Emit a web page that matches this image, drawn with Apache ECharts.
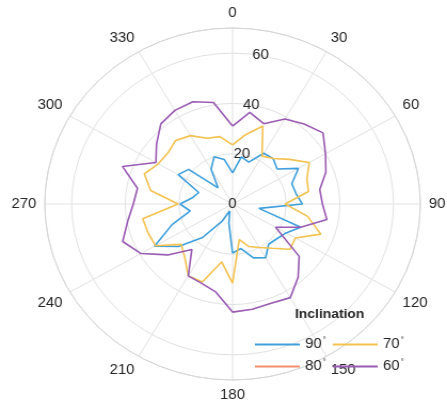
<!DOCTYPE html>
<html>
<head>
<meta charset="utf-8">
<script src="https://cdn.jsdelivr.net/npm/echarts@6/dist/echarts.min.js"></script>
<style>
  html, body { margin: 0; padding: 0; background: #ffffff; overflow: hidden; }
  /* the plot is slightly wider than tall */
  #chart { width: 419px; height: 404px; transform: scaleX(1.0668); transform-origin: 0 0; }
</style>
</head>
<body>
<div id="chart"></div>
<script>
// Azimuth of each sample (degrees, clockwise from north)
const angles = [0, 10, 20, 30, 40, 50, 60, 70, 80, 90, 100, 110,
                120, 130, 140, 150, 160, 170, 180, 190, 200, 210, 220, 230,
                240, 250, 260, 270, 280, 290, 300, 310, 320, 330, 340, 350];

// Radial values per inclination
const r90 = [12.4, 19, 17.7, 23.3, 23.5, 21.7, 28.3, 23.5, 24, 26, 10, 27,
             23, 21.5, 20.9, 24.7, 22.8, 18, 19.5, 7.8, 3, 8, 17.4, 26.3,
             33.6, 24, 16, 19.6, 15, 13.4, 23.4, 21.4, 8.4, 16, 20, 18];
const r80 = [];
const r70 = [23.5, 28, 33, 22, 23.6, 27.6, 33, 29.5, 28.7, 19.6, 28.4, 35,
             27, 28, 23, 20, 18, 14.4, 31.5, 23.4, 33, 33, 27.7, 25,
             33.2, 33.5, 34, 20.3, 31, 35, 32, 31.5, 33, 31.4, 27.8, 27.2];
const r60 = [31, 37, 34, 39, 41.5, 44, 40, 37, 33, 33.5, 35.7, 27,
             18.5, 32.4, 38, 43, 42, 42.5, 43, 35.6, 33.6, 33, 23.6, 31.5,
             39.4, 43.6, 39.7, 37, 36, 43.7, 33, 37, 41.6, 43, 43.3, 41];

const seriesNames = ['90', '80', '70', '60'];
const seriesRadii = [r90, r80, r70, r60];
const seriesColors = ['#3e9fdc', '#f0916b', '#f3c24f', '#9a5bb3'];

const angleTickStep = 30;
const radiusTickStep = 20;
const radiusMax = 70;

// closed polar loop: [radius, angle] pairs, back to the start
function loop(radii) {
  if (!radii.length) return [];
  const pts = radii.map((r, i) => [r, angles[i]]);
  pts.push([radii[0], 360]);
  return pts;
}

const center = [218, 204];
const radius = 176;
const textColor = '#262626';
const gridColor = '#e2e2e2';
const font = 'Liberation Sans, Arial, sans-serif';

const chart = echarts.init(document.getElementById('chart'), null, { renderer: 'canvas' });

const legendPos = [
  { left: 239, top: 336 },  // 90
  { left: 239, top: 358 },  // 80
  { left: 312, top: 336 },  // 70
  { left: 312, top: 358 }   // 60
];

chart.setOption({
  animation: false,
  backgroundColor: '#ffffff',
  title: {
    text: 'Inclination',
    left: 309, top: 308, textAlign: 'center', padding: 0,
    textStyle: { fontFamily: font, fontSize: 13, fontWeight: 'bold', color: textColor }
  },
  legend: seriesNames.map((n, i) => ({
    data: [{ name: n, icon: 'rect' }],
    left: legendPos[i].left,
    top: legendPos[i].top,
    padding: 0,
    itemWidth: 42,
    itemHeight: 1.8,
    itemGap: 0,
    selectedMode: false,
    formatter: name => '{n|' + name + '}{d|°}',
    textStyle: {
      color: textColor,
      fontFamily: font,
      rich: {
        n: { fontSize: 14, color: textColor, fontFamily: font },
        d: { fontSize: 8, color: textColor, padding: [0, 0, 9, 1], fontFamily: font }
      }
    }
  })),
  polar: [
    { center: center, radius: radius },
    { center: center, radius: radius }
  ],
  angleAxis: [
    {
      polarIndex: 0, type: 'value', min: 0, max: 360, interval: angleTickStep,
      startAngle: 90, clockwise: true,
      axisLine: { show: true, lineStyle: { color: '#d6d6d6', width: 1 } },
      axisTick: { show: false },
      splitLine: { show: true, lineStyle: { color: gridColor, width: 1 } },
      axisLabel: {
        color: textColor, fontSize: 14, margin: 8, fontFamily: font,
        formatter: v => (v === 360 ? '' : String(v))
      }
    },
    {
      polarIndex: 1, type: 'value', min: 0, max: 360, startAngle: 80, clockwise: true,
      axisLine: { show: false }, axisTick: { show: false },
      splitLine: { show: false }, axisLabel: { show: false }
    }
  ],
  radiusAxis: [
    {
      polarIndex: 0, type: 'value', min: 0, max: radiusMax, interval: radiusTickStep,
      axisLine: { show: false }, axisTick: { show: false }, axisLabel: { show: false },
      splitLine: { show: true, lineStyle: { color: gridColor, width: 1 } }
    },
    {
      polarIndex: 1, type: 'value', min: 0, max: radiusMax, interval: radiusTickStep,
      axisLine: { show: false }, axisTick: { show: false }, splitLine: { show: false },
      axisLabel: {
        show: true, margin: 0, align: 'center', verticalAlign: 'middle',
        color: textColor, fontSize: 14, fontFamily: font,
        formatter: v => (v % radiusTickStep === 0 ? String(v) : '')
      }
    }
  ],
  series: seriesNames.map((n, i) => ({
    name: n,
    type: 'line',
    coordinateSystem: 'polar',
    polarIndex: 0,
    data: loop(seriesRadii[i]),
    symbol: 'none',
    lineStyle: { color: seriesColors[i], width: 1.6 },
    itemStyle: { color: seriesColors[i] },
    z: 2 + i
  }))
});
</script>
</body>
</html>
